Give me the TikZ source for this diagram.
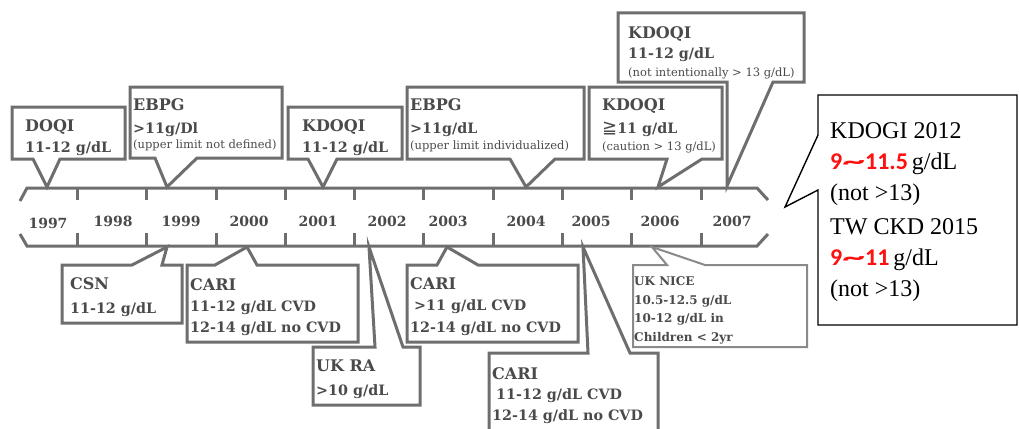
\documentclass[tikz,border=0pt]{standalone}
\usepackage{fontspec}
\usepackage{graphicx}
\setmainfont{DejaVu Serif}
\newfontfamily\djs{DejaVu Sans}
\newfontfamily\libs{Liberation Serif}
\newfontfamily\carl{Carlito}
\definecolor{ln}{HTML}{6E6E6E}
\definecolor{lnl}{HTML}{8A8A8A}
\definecolor{tx}{HTML}{4A4A4A}
\definecolor{rd}{HTML}{FF1010}
\newcommand{\wtilde}{\scalebox{1.9}[1]{\textasciitilde}}
\begin{document}
\begin{tikzpicture}[x=1pt,y=-1pt,
  box/.style={draw=ln,line width=3pt,fill=white,line join=miter},
  boxl/.style={draw=lnl,line width=2pt,fill=white,line join=miter},
  bigbox/.style={draw=black,line width=1.4pt,fill=white,line join=miter},
  th/.style={anchor=base west,inner sep=0pt,text=tx,font=\bfseries\fontsize{16}{16}\selectfont},
  t/.style={anchor=base west,inner sep=0pt,text=tx,font=\bfseries\fontsize{14.3}{14}\selectfont},
  ts/.style={anchor=base west,inner sep=0pt,text=tx,font=\fontsize{11.5}{12}\selectfont},
  tn/.style={anchor=base west,inner sep=0pt,text=tx,font=\bfseries\fontsize{12}{12}\selectfont},
  yr/.style={anchor=center,inner sep=0pt,text=tx,font=\bfseries\fontsize{14}{14}\selectfont},
  tl/.style={draw=ln,line width=3pt},
  big/.style={anchor=base west,inner sep=0pt,text=black,font=\libs\fontsize{24}{24}\selectfont}]
\useasboundingbox (0,0) rectangle (1019,428);
\clip (0,0) rectangle (1019,428);

% ---------- timeline ----------
\draw[tl] (20,201) -- (27,188) -- (757,188) -- (768,200);
\draw[tl] (20,234) -- (27,246) -- (757,246) -- (768,234);
\foreach \x in {77,146,216,285,354,423,493,562,631,701}{
  \draw[tl] (\x,188) -- (\x,200);
  \draw[tl] (\x,233) -- (\x,246);
}
\node[yr] (y1997) at (48,223) {1997};
\node[yr] (y1998) at (113,221) {1998};
\node[yr] (y1999) at (181,221) {1999};
\node[yr] (y2000) at (249,221) {2000};
\node[yr] (y2001) at (318,221) {2001};
\node[yr] (y2002) at (387,221) {2002};
\node[yr] (y2003) at (448,221) {2003};
\node[yr] (y2004) at (526,221) {2004};
\node[yr] (y2005) at (591,221) {2005};
\node[yr] (y2006) at (660,221) {2006};
\node[yr] (y2007) at (732,221) {2007};

% ---------- upper callouts ----------
\draw[box] (12,107) -- (125,107) -- (125,159) -- (60,159) -- (47,187) -- (33,159) -- (12,159) -- cycle;
\node[th] (doqi) at (25,131) {DOQI};
\node[t] (doqiv) at (25,152) {11-12 g/dL};

\draw[box] (130,87) -- (282,87) -- (282,158) -- (197,158) -- (167,187) -- (155,158) -- (130,158) -- cycle;
\node[th] (ebpga) at (133,110) {EBPG};
\node[t] (ebpgav) at (133,133) {>11g/Dl};
\node[ts] (ebpgan) at (133,148) {(upper limit not defined)};

\draw[box] (288,107) -- (402,107) -- (402,159) -- (337,159) -- (323,187) -- (308,159) -- (288,159) -- cycle;
\node[th] (kdoqia) at (302,131) {KDOQI};
\node[t] (kdoqiav) at (302,152) {11-12 g/dL};

\draw[box] (407,87) -- (584,87) -- (584,159) -- (555,159) -- (526,187) -- (510,159) -- (407,159) -- cycle;
\node[th] (ebpgb) at (410,110) {EBPG};
\node[t] (ebpgbv) at (410,133) {>11g/dL};
\node[ts] (ebpgbn) at (410,149) {(upper limit individualized)};

\draw[box] (589,87) -- (722,87) -- (722,159) -- (702,159) -- (658,187) -- (667,159) -- (589,159) -- cycle;
\node[th] (kdoqib) at (602,110) {KDOQI};
\node[t] (kdoqibv) at (602,133) {{\djs\mdseries\fontsize{18}{18}\selectfont ≧}11 g/dL};
\node[ts] (kdoqibn) at (602,150) {(caution > 13 g/dL)};

\draw[box] (618,13) -- (804,13) -- (804,82) -- (773,82) -- (727,186) -- (727,82) -- (618,82) -- cycle;
\node[th] (kdoqic) at (628,38) {KDOQI};
\node[t] (kdoqicv) at (628,59) {11-12 g/dL};
\node[ts] (kdoqicn) at (628,76) {(not intentionally > 13 g/dL)};

% ---------- lower callouts ----------
\draw[box] (62,265) -- (132,265) -- (167,247) -- (162,265) -- (182,265) -- (182,323) -- (62,323) -- cycle;
\node[th] (csn) at (70,289) {CSN};
\node[t] (csnv) at (70,313) {11-12 g/dL};

\draw[box] (187,265) -- (215,265) -- (247,247) -- (257,265) -- (358,265) -- (358,342) -- (187,342) -- cycle;
\node[th] (caria) at (190,290) {CARI};
\node[t] (cariav) at (190,311) {11-12 g/dL CVD};
\node[t] (cariaw) at (190,332) {12-14 g/dL no CVD};

\draw[box] (313,347) -- (375,347) -- (369,247) -- (403,347) -- (420,347) -- (420,405) -- (313,405) -- cycle;
\node[th] (ukra) at (316,371) {UK RA};
\node[t] (ukrav) at (316,395) {>10 g/dL};

\draw[box] (407,265) -- (437,265) -- (447,247) -- (478,265) -- (578,265) -- (578,342) -- (407,342) -- cycle;
\node[th] (carib) at (410,289) {CARI};
\node[t] (caribv) at (414,310) {>11 g/dL CVD};
\node[t] (caribw) at (410,332) {12-14 g/dL no CVD};

\draw[box] (489,353) -- (588,353) -- (583,247) -- (630,353) -- (658,353) -- (658,440) -- (489,440) -- cycle;
\node[th] (caric) at (492,379) {CARI};
\node[t] (caricv) at (496,399) {11-12 g/dL CVD};
\node[t] (caricw) at (492,420) {12-14 g/dL no CVD};

\draw[boxl] (633,265) -- (667,265) -- (652,247) -- (705,265) -- (807,265) -- (807,347) -- (633,347) -- cycle;
\node[tn] (nice) at (634,285) {UK NICE};
\node[tn] (nicev) at (634,304) {10.5-12.5 g/dL};
\node[tn] (nicew) at (634,322) {10-12 g/dL in};
\node[tn] (nicex) at (634,341) {Children < 2yr};

% ---------- big box ----------
\draw[bigbox] (818,95) -- (1017,95) -- (1017,325) -- (818,325) -- (818,190) -- (785,207) -- (818,135) -- cycle;
\node[big] (k12) at (830,138) {KDOGI 2012};
\node[big] (k12v) at (830,169) {{\carl\bfseries\color{rd}9\wtilde11.5}\,g/dL};
\node[big] (k12n) at (830,200) {(not >13)};
\node[big] (tw) at (830,234) {TW CKD 2015};
\node[big] (twv) at (830,265) {{\carl\bfseries\color{rd}9\wtilde11}\,g/dL};
\node[big] (twn) at (830,296) {(not >13)};
\end{tikzpicture}
\end{document}
